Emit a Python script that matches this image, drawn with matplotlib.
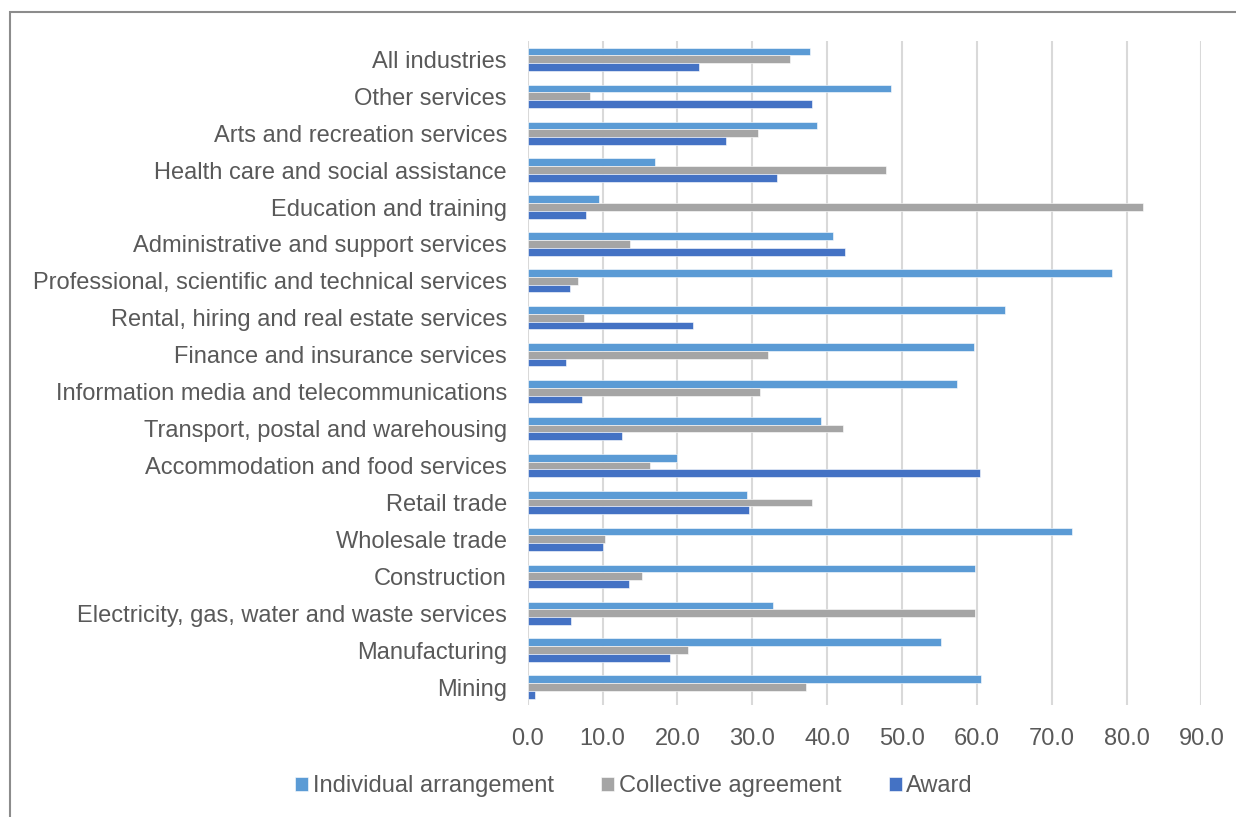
import numpy as np
import matplotlib.pyplot as plt
from matplotlib.patches import Rectangle

plt.rcParams["font.family"] = ["Liberation Sans", "DejaVu Sans"]

# Industries (top to bottom as shown)
industries = [
    "All industries",
    "Other services",
    "Arts and recreation services",
    "Health care and social assistance",
    "Education and training",
    "Administrative and support services",
    "Professional, scientific and technical services",
    "Rental, hiring and real estate services",
    "Finance and insurance services",
    "Information media and telecommunications",
    "Transport, postal and warehousing",
    "Accommodation and food services",
    "Retail trade",
    "Wholesale trade",
    "Construction",
    "Electricity, gas, water and waste services",
    "Manufacturing",
    "Mining",
]

individual = [37.7, 48.5, 38.6, 17.0, 9.5, 40.8, 78.1, 63.8, 59.6, 57.4,
              39.2, 19.9, 29.3, 72.7, 59.8, 32.7, 55.2, 60.6]
collective = [35.1, 8.3, 30.8, 47.8, 82.2, 13.6, 6.7, 7.5, 32.1, 31.0,
              42.1, 16.3, 38.0, 10.3, 15.2, 59.8, 21.4, 37.2]
award = [22.9, 38.0, 26.5, 33.3, 7.8, 42.4, 5.7, 22.1, 5.1, 7.3,
         12.6, 60.4, 29.6, 10.0, 13.5, 5.8, 19.0, 1.0]

series = ["Individual arrangement", "Collective agreement", "Award"]
colors = ["#5B9BD5", "#A5A5A5", "#4472C4"]

fig = plt.figure(figsize=(12.36, 8.17), dpi=100)
ax = fig.add_axes([0.427, 0.1365, 0.545, 0.8135])

# outer chart frame
fig.patches.append(Rectangle((10 / 1236, -0.05), 1.1, 1 - 12 / 817 + 0.05,
                             transform=fig.transFigure, fill=False,
                             edgecolor="#8C8C8C", linewidth=1.5))

y = np.arange(len(industries))
h = 0.21
for i, (vals, name, c) in enumerate(zip([individual, collective, award], series, colors)):
    ax.barh(y + (i - 1) * h, vals, height=h, color=c, label=name,
            edgecolor="white", linewidth=0.4, zorder=3)

ax.set_ylim(len(industries) - 0.5, -0.5)
ax.set_xlim(0, 90)
ax.set_xticks(np.arange(0, 91, 10))
ax.set_xticklabels([f"{v:.1f}" for v in np.arange(0, 91, 10)])
ax.set_yticks(y)
ax.set_yticklabels(industries)
ax.xaxis.grid(True, color="#D9D9D9", linewidth=1.5, zorder=0)
for s in ax.spines.values():
    s.set_visible(False)
ax.tick_params(axis="both", length=0, labelsize=17, labelcolor="#595959")
ax.tick_params(axis="y", pad=15)
ax.tick_params(axis="x", pad=16)

leg = fig.legend(loc="center", bbox_to_anchor=(0.513, 1 - 786 / 817), ncol=3,
                 frameon=False, fontsize=17, handlelength=0.55, handleheight=0.55,
                 handletextpad=0.2, columnspacing=2.0)
for t in leg.get_texts():
    t.set_color("#595959")

fig.savefig("out.png", dpi=100)
